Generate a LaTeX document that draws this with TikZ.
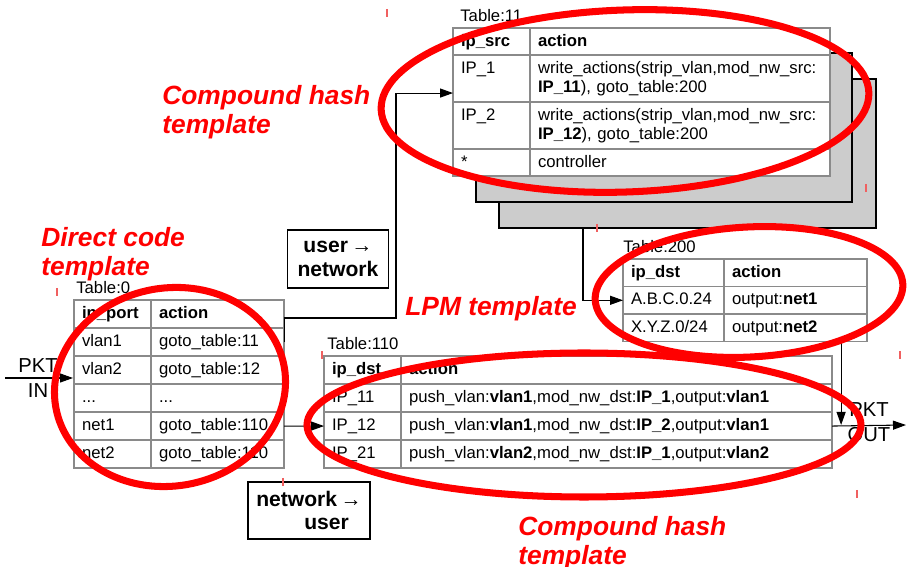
\documentclass[tikz,border=0pt]{standalone}
\usepackage{fontspec}
\setmainfont{Liberation Sans}
\usepackage{tikz}
\usetikzlibrary{arrows.meta,positioning,matrix,calc}
\definecolor{markRed}{HTML}{FF0000}
\definecolor{tickRed}{HTML}{F06060}
\definecolor{shadeGray}{HTML}{CCCCCC}
\definecolor{gridGray}{HTML}{8A8A8A}
\tikzset{
  tcell/.style={draw=gridGray,line width=0.8pt,fill=white,align=left,anchor=center,
    inner xsep=1.6mm,inner ysep=0pt,outer sep=0pt,minimum height=5.6mm,
    text height=2.5mm,text depth=0.7mm,font=\fontsize{9.5}{10.6}\selectfont},
  thead/.style={font=\fontsize{9.5}{10.6}\selectfont\bfseries},
  ttall/.style={nodes={minimum height=9.4mm,text depth=4.45mm}},
  ttable/.style={matrix of nodes,anchor=north west,inner sep=0pt,
    column sep=-0.8pt,row sep=-0.8pt,nodes={tcell}},
  tlabel/.style={inner xsep=0pt,inner ysep=1mm,font=\fontsize{9.5}{11}\selectfont},
  tshade/.style={draw=black,line width=0.7pt,fill=shadeGray,inner sep=0pt,outer sep=0pt,anchor=north west},
  tdir/.style={draw=black,line width=0.7pt,align=center,font=\fontsize{12}{13.6}\selectfont\bfseries},
  tnote/.style={anchor=north west,inner sep=0pt,align=left,text=markRed,
    font=\fontsize{15}{16.4}\selectfont\bfseries\itshape},
  tpkt/.style={align=center,inner sep=0pt,font=\fontsize{11.5}{14}\selectfont},
  tring/.style={draw=markRed,line width=4pt},
  tflow/.style={-{Triangle[length=2.6mm,width=1.8mm]},line width=0.6pt},
}
\newcommand{\sarrow}{\,{\fontsize{12}{12}\selectfont\mdseries →}}

\begin{document}
\begin{tikzpicture}[x=0.2mm,y=-0.2mm]
\useasboundingbox (0,0) rectangle (907,567);
% stacked tables behind Table:11
\node[tshade,minimum width=75.4mm,minimum height=29.8mm] (sh2) at (499,79) {};
\node[tshade,minimum width=75.2mm,minimum height=29.8mm] (sh1) at (476,53) {};
\matrix[ttable,column 1/.style={nodes={text width=12.2mm}},column 2/.style={nodes={text width=56.8mm}},
  row 1/.style={nodes={thead,minimum height=5.4mm}},row 2/.style={ttall},row 3/.style={ttall},
  row 4/.style={nodes={minimum height=5.4mm}}] (t11) at (452,27) {
ip\_src & action \\
IP\_1 & write\_actions(strip\_vlan,mod\_nw\_src:\newline\textbf{IP\_11}), goto\_table:200 \\
IP\_2 & write\_actions(strip\_vlan,mod\_nw\_src:\newline\textbf{IP\_12}), goto\_table:200 \\
* & controller \\
};
\node[tlabel,above right=0mm and 1.6mm of t11.north west] (t11lab) {Table:11};
\matrix[ttable,column 1/.style={nodes={text width=12.2mm}},column 2/.style={nodes={text width=23.4mm}},
  row 1/.style={nodes={thead}}] (t0) at (73,299) {
in\_port & action \\
vlan1 & goto\_table:11 \\
vlan2 & goto\_table:12 \\
... & ... \\
net1 & goto\_table:110 \\
net2 & goto\_table:110 \\
};
\node[tlabel,above right=0mm and 0.6mm of t0.north west] (t0lab) {Table:0};
\matrix[ttable,column 1/.style={nodes={text width=12.2mm}},column 2/.style={nodes={text width=83mm}},
  row 1/.style={nodes={thead}}] (t110) at (323,355) {
ip\_dst & action \\
IP\_11 & push\_vlan:\textbf{vlan1},mod\_nw\_dst:\textbf{IP\_1},output:\textbf{vlan1} \\
IP\_12 & push\_vlan:\textbf{vlan1},mod\_nw\_dst:\textbf{IP\_2},output:\textbf{vlan1} \\
IP\_21 & push\_vlan:\textbf{vlan2},mod\_nw\_dst:\textbf{IP\_1},output:\textbf{vlan2} \\
};
\node[tlabel,above right=0mm and 0.8mm of t110.north west] (t110lab) {Table:110};
\matrix[ttable,column 1/.style={nodes={text width=17mm}},column 2/.style={nodes={text width=25.4mm}},
  row 1/.style={nodes={thead}},nodes={minimum height=5.5mm}] (t200) at (622,258) {
ip\_dst & action \\
A.B.C.0.24 & output:\textbf{net1} \\
X.Y.Z.0/24 & output:\textbf{net2} \\
};
\node[tlabel,above right=0mm and 0.2mm of t200.north west] (t200lab) {Table:200};
% direction boxes
\node[tdir,minimum width=20.2mm,minimum height=11.6mm] (u2n) at (338,259) {user\sarrow\\network};
\node[tdir,align=left,minimum width=24.4mm,minimum height=11.4mm] (n2u) at (309,510.5) {network\sarrow\\\hspace*{9.6mm}user};
% packet in / out
\coordinate (pktin) at (5,378);
\coordinate (pktout) at (906,425);
\coordinate (riser) at (396,318);
\node[tpkt] (inlab) at (38,378) {PKT\\IN};
\node[tpkt] (outlab) at (869,422) {PKT\\OUT};
\draw[tflow] (pktin) -- (pktin -| t0.west);
\draw[tflow] (t0-2-2.east) -- (t0-2-2.east |- riser) -- (riser) |- ([yshift=-2.9mm]t11-2-1.west);
\draw[tflow] (t0-5-2.east) -- (t110-3-1.west);
\draw[tflow] ([xshift=16.8mm]sh2.south west) |- (t200-2-1.west);
\draw[tflow] (t110-3-2.east) -- (pktout);
\draw[tflow] ([xshift=-5.4mm]t200.south east) -- ([xshift=-5.4mm]t200.south east |- pktout);
% template marks
\draw[tring,rotate around={2:(625,101)}] (625,101) ellipse [x radius=244,y radius=91];
\draw[tring,rotate around={10:(170,387)}] (170,387) ellipse [x radius=116,y radius=99];
\draw[tring,rotate around={3:(749,292)}] (749,292) ellipse [x radius=154,y radius=65];
\draw[tring] (584,425) ellipse [x radius=277,y radius=72];
\node[tnote] (hashtop) at (162,85) {Compound hash\\template};
\node[tnote] (codenote) at (41,227) {Direct code\\template};
\node[tnote] (lpmnote) at (405,296) {LPM template};
\node[tnote] (hashbot) at (518,516) {Compound hash\\template};
\draw[tickRed,line width=0.6pt] (387,9) -- ++(0,8) (866,184) -- ++(0,8) (597,224) -- ++(0,8)
  (900,351) -- ++(0,8) (57,288) -- ++(0,8) (283,478) -- ++(0,8) (322,351) -- ++(0,8) (857,490) -- ++(0,8);
\end{tikzpicture}
\end{document}
